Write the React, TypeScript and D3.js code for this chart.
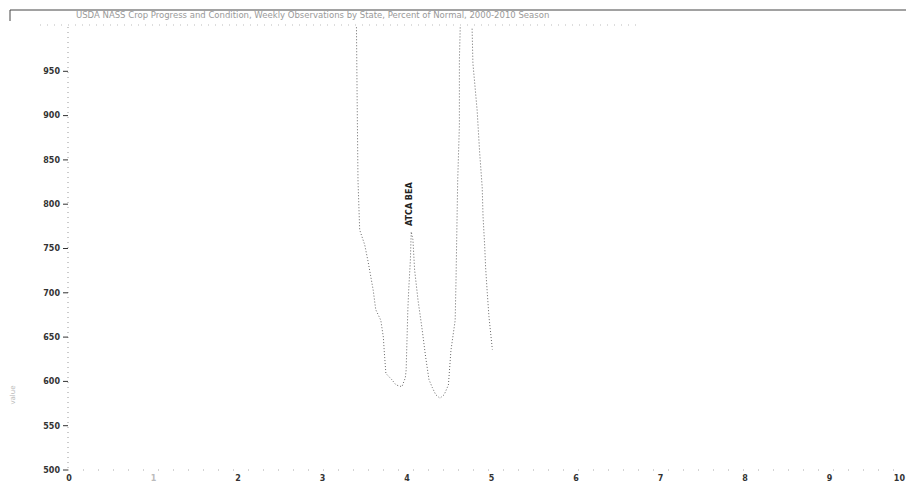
import React, { useEffect, useRef } from 'react';
import * as d3 from 'd3';

// curve (x in axis units, y in axis units)
const curveX = [3.4, 3.41, 3.42, 3.44, 3.5, 3.54, 3.6, 3.63, 3.69, 3.72, 3.73, 3.75, 3.82, 3.87, 3.94,
  3.98, 3.99, 4.0, 4.01, 4.02, 4.04, 4.05, 4.07, 4.09, 4.13, 4.18, 4.22, 4.26, 4.3, 4.34, 4.39,
  4.44, 4.49, 4.52, 4.57, 4.58, 4.59, 4.6, 4.62, 4.62, 4.63, 4.7,
  4.77, 4.78, 4.8, 4.83, 4.86, 4.89, 4.9, 4.92, 4.93, 4.95, 4.97, 5.01];
const curveY = [1020, 918, 827, 771, 754, 735, 703, 681, 669, 650, 635, 609, 602, 596, 594,
  604, 613, 647, 681, 703, 737, 769, 760, 726, 692, 658, 628, 602, 593, 585, 581,
  585, 596, 635, 669, 714, 771, 827, 889, 963, 1000, 1040,
  1000, 959, 938, 906, 858, 819, 786, 752, 729, 700, 673, 636];

const yTicks = [500, 550, 600, 650, 700, 750, 800, 850, 900, 950];
const xTicks = [0, 1, 2, 3, 4, 5, 6, 7, 8, 9, 10];

const title = 'USDA NASS Crop Progress and Condition, Weekly Observations by State, Percent of Normal, 2000-2010 Season';
const annotation = 'ATCA BEA';

function App() {
  const ref = useRef<SVGSVGElement>(null);

  useEffect(() => {
    const svg = d3.select(ref.current);
    svg.selectAll('*').remove();

    const width = 906, height = 486;
    const x = d3.scaleLinear().domain([0, 10]).range([69, 914]);
    const y = d3.scaleLinear().domain([500, 1000]).range([470, 27]);

    svg.attr('width', width).attr('height', height);

    // frame + title
    svg.append('line').attr('x1', 10).attr('x2', 906).attr('y1', 10).attr('y2', 10)
      .attr('stroke', '#444').attr('stroke-width', 1);
    svg.append('line').attr('x1', 10).attr('x2', 10).attr('y1', 10).attr('y2', 21)
      .attr('stroke', '#444').attr('stroke-width', 1);
    svg.append('text').attr('x', 76).attr('y', 18)
      .attr('font-family', 'DejaVu Sans').attr('font-size', 8.5).attr('fill', '#999')
      .text(title);
    svg.append('line').attr('x1', 40).attr('x2', 640).attr('y1', 25).attr('y2', 25)
      .attr('stroke', '#bbb').attr('stroke-dasharray', '1,6');

    // y axis title (faint, rotated)
    svg.append('text')
      .attr('transform', 'translate(15,395) rotate(-90)')
      .attr('text-anchor', 'middle')
      .attr('font-family', 'DejaVu Sans').attr('font-size', 7).attr('fill', '#bbb')
      .text('value');

    // axes
    const g = svg.append('g');
    g.append('line').attr('x1', 68).attr('x2', 68).attr('y1', 27).attr('y2', 470)
      .attr('stroke', '#999').attr('stroke-dasharray', '1,4');
    g.append('line').attr('x1', 68).attr('x2', 906).attr('y1', 470).attr('y2', 470)
      .attr('stroke', '#aaa').attr('stroke-dasharray', '1,14');

    g.selectAll('.ytick').data(yTicks).enter().append('line')
      .attr('x1', 63).attr('x2', 68).attr('y1', d => y(d)).attr('y2', d => y(d))
      .attr('stroke', '#333');
    g.selectAll('.ylab').data(yTicks).enter().append('text')
      .attr('x', 60).attr('y', d => y(d)).attr('dy', '0.35em')
      .attr('text-anchor', 'end')
      .attr('font-family', 'DejaVu Sans').attr('font-size', 8).attr('font-weight', 'bold')
      .attr('fill', '#333')
      .text(d => d);

    g.selectAll('.xlab').data(xTicks).enter().append('text')
      .attr('x', d => (d === 10 ? 905 : x(d))).attr('y', 481)
      .attr('text-anchor', d => (d === 10 ? 'end' : 'middle'))
      .attr('font-family', 'DejaVu Sans').attr('font-size', 8).attr('font-weight', 'bold')
      .attr('fill', d => (d === 1 ? '#bbb' : '#333'))
      .text(d => d);

    // curve
    svg.append('clipPath').attr('id', 'plotclip').append('rect')
      .attr('x', 68).attr('y', 27).attr('width', 840).attr('height', 443);

    const pts = curveX.map((v, i) => [v, curveY[i]] as [number, number]);
    const line = d3.line<[number, number]>().x(d => x(d[0])).y(d => y(d[1]));

    svg.append('path')
      .attr('clip-path', 'url(#plotclip)')
      .attr('d', line(pts))
      .attr('fill', 'none')
      .attr('stroke', '#666')
      .attr('stroke-width', 1)
      .attr('stroke-dasharray', '1,2');

    svg.append('text')
      .attr('transform', `translate(${x(4.02)},${y(800)}) rotate(-90)`)
      .attr('text-anchor', 'middle').attr('dy', '0.35em')
      .attr('font-family', 'DejaVu Sans').attr('font-size', 8).attr('font-weight', 'bold')
      .attr('fill', '#222')
      .text(annotation);
  }, []);

  return <svg ref={ref} style={{ position: 'absolute', left: 0, top: 0 }}></svg>;
}

export default App;
